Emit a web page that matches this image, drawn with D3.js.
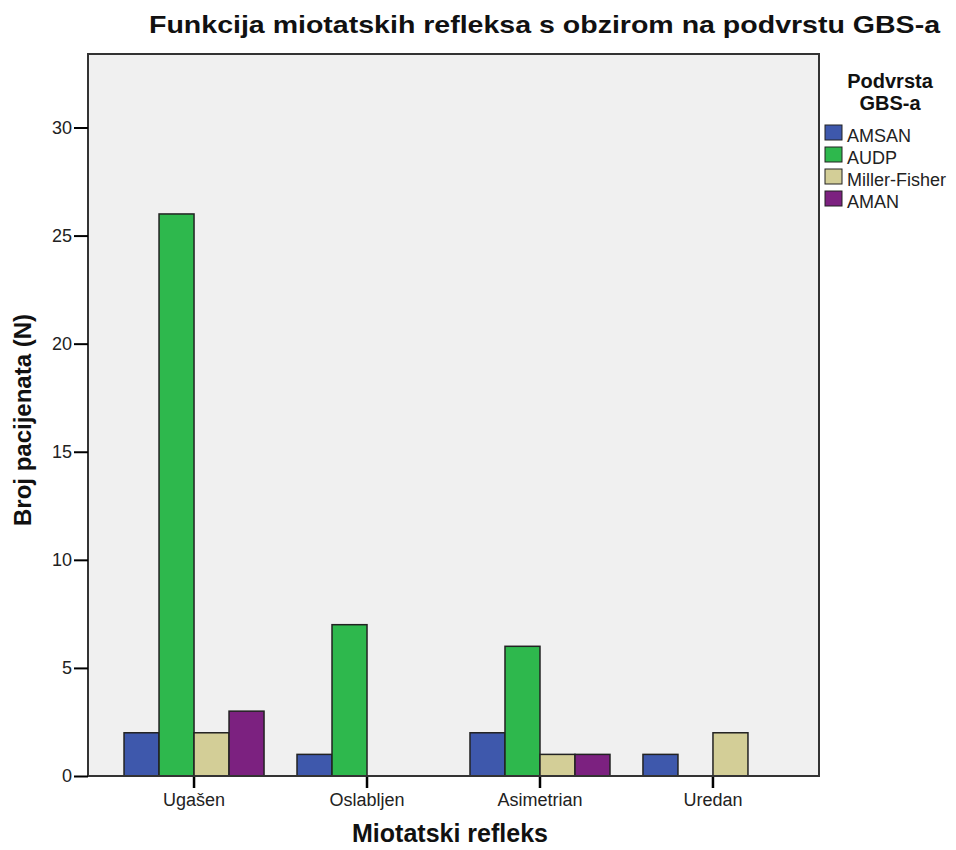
<!DOCTYPE html>
<html><head><meta charset="utf-8">
<script src="https://cdn.jsdelivr.net/npm/d3@7"></script>
<style>body{margin:0;background:#fff;} text{font-family:"Liberation Sans",Arial,sans-serif;}</style>
</head><body>
<svg id="c" width="956" height="850"></svg>
<script>
const categories = ["Ugašen","Oslabljen","Asimetrian","Uredan"];
const seriesNames = ["AMSAN","AUDP","Miller-Fisher","AMAN"];
const seriesColors = ["#3e58ac","#2eb84d","#d3ce97","#7c2180"];
const AMSAN = [2,1,2,1];
const AUDP = [26,7,6,0];
const MillerFisher = [2,0,1,2];
const AMAN = [3,0,1,0];
const yTicks = [0,5,10,15,20,25,30];
const seriesValues = [AMSAN,AUDP,MillerFisher,AMAN];

const svg = d3.select("#c");
const L=88,R=819,T=54,B=776;
const x = d3.scaleBand().domain(categories).range([L,R]).paddingInner(0).paddingOuter(0.113);
const xi = d3.scaleBand().domain(seriesNames).range([0,140]);
const y = d3.scaleLinear().domain([0,33.4]).range([B,T]);

svg.append("rect").attr("x",L).attr("y",T).attr("width",R-L).attr("height",B-T)
  .attr("fill","#f0f0f0").attr("stroke","#333").attr("stroke-width",2);

categories.forEach((c,ci)=>{
  seriesNames.forEach((s,si)=>{
    const v = seriesValues[si][ci];
    if(!v) return;
    svg.append("rect")
      .attr("x", x(c)+x.bandwidth()/2-70+xi(s))
      .attr("y", y(v)).attr("width", xi.bandwidth()).attr("height", B-y(v))
      .attr("fill", seriesColors[si]).attr("stroke","#222").attr("stroke-width",1.5);
  });
});

const ya = svg.append("g").attr("transform",`translate(${L},0)`)
  .call(d3.axisLeft(y).tickValues(yTicks).tickSize(14).tickPadding(2));
ya.select(".domain").remove();
ya.selectAll("line").attr("stroke","#000").attr("stroke-width",2);
ya.selectAll("text").attr("font-size",18).attr("fill","#222").style("font-family","Liberation Sans, Arial");

const xa = svg.append("g").attr("transform",`translate(0,${B})`)
  .call(d3.axisBottom(x).tickSize(12).tickPadding(5));
xa.select(".domain").remove();
xa.selectAll("line").attr("stroke","#000").attr("stroke-width",2.5);
xa.selectAll("text").attr("font-size",18).attr("fill","#222").style("font-family","Liberation Sans, Arial");

svg.append("line").attr("x1",L).attr("x2",R).attr("y1",B).attr("y2",B).attr("stroke","#333").attr("stroke-width",2);

svg.append("text").attr("x",544.5).attr("y",33).attr("text-anchor","middle")
  .attr("font-size",24).attr("font-weight","bold").attr("fill","#111")
  .attr("textLength",791).attr("lengthAdjust","spacingAndGlyphs")
  .text("Funkcija miotatskih refleksa s obzirom na podvrstu GBS-a");
svg.append("text").attr("transform","translate(31,420) rotate(-90)").attr("text-anchor","middle")
  .attr("font-size",24).attr("font-weight","bold").attr("fill","#111").text("Broj pacijenata (N)");
svg.append("text").attr("x",450).attr("y",842).attr("text-anchor","middle")
  .attr("font-size",25).attr("font-weight","bold").attr("fill","#111").text("Miotatski refleks");

const lg = svg.append("g");
lg.append("text").attr("x",890).attr("y",88).attr("text-anchor","middle").attr("font-size",20).attr("font-weight","bold").attr("fill","#111").text("Podvrsta");
lg.append("text").attr("x",890).attr("y",110).attr("text-anchor","middle").attr("font-size",20).attr("font-weight","bold").attr("fill","#111").text("GBS-a");
seriesNames.forEach((s,i)=>{
  const yy = 125 + i*22;
  lg.append("rect").attr("x",825).attr("y",yy).attr("width",17).attr("height",15)
    .attr("fill",seriesColors[i]).attr("stroke","#222").attr("stroke-width",1);
  lg.append("text").attr("x",847).attr("y",yy+17).attr("font-size",18).attr("fill","#222").text(s);
});
</script>
</body></html>
